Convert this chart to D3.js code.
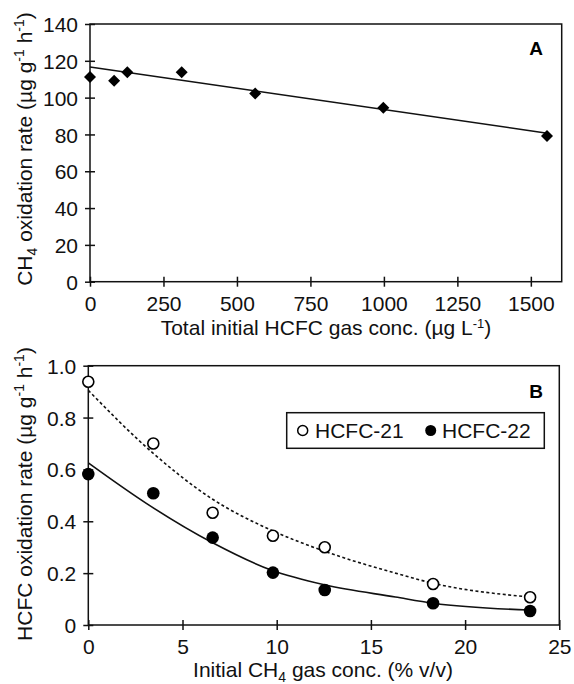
<!DOCTYPE html>
<html>
<head>
<meta charset="utf-8">
<script src="https://cdn.jsdelivr.net/npm/d3@7"></script>
<style>
  body { margin: 0; background: #fff; }
  svg { font-family: "Liberation Sans", Arial, sans-serif; }
  .tick text { font-size: 21px; fill: #111; }
  .domain { display: none; }
</style>
</head>
<body>
<div id="chart"></div>
<script>
// panel A data
const hcfcTotal = [0, 82, 127, 312, 562, 998, 1555];
const ch4Rate = [111.2, 109.2, 113.8, 113.8, 102.3, 94.5, 79.2];
const fitA = [[0, 116.6], [1550, 80.8]];
const xTicksA = [0, 250, 500, 750, 1000, 1250, 1500];
const yTicksA = [0, 20, 40, 60, 80, 100, 120, 140];

// panel B data
const ch4Conc = [0, 3.45, 6.6, 9.8, 12.55, 18.3, 23.45];
const hcfc21 = [0.938, 0.70, 0.433, 0.344, 0.30, 0.158, 0.107];
const hcfc22 = [0.582, 0.508, 0.337, 0.202, 0.135, 0.084, 0.054];
const fit21 = [[0, 0.905], [3.4, 0.665], [6.6, 0.485], [9.7, 0.366], [12.6, 0.283], [16.3, 0.20], [18.3, 0.161], [23.4, 0.108]];
const fit22 = [[0, 0.625], [3.1, 0.468], [6.6, 0.317], [9.7, 0.212], [12.6, 0.154], [16.3, 0.108], [18.3, 0.084], [23.4, 0.058]];
const xTicksB = [0, 5, 10, 15, 20, 25];
const yTicksB = [0, 0.2, 0.4, 0.6, 0.8, 1.0];

const svg = d3.select("#chart").append("svg")
  .attr("width", 574)
  .attr("height", 684);

function drawFrame(x, y, xTicks, yTicks, xFmt, yFmt) {
  const g = svg.append("g");
  const [x0, x1] = x.range();
  const [y0, y1] = y.range();

  g.append("rect")
    .attr("x", x0).attr("y", y1)
    .attr("width", x1 - x0).attr("height", y0 - y1)
    .attr("fill", "none").attr("stroke", "#111").attr("stroke-width", 1.5);

  const xa = g.append("g")
    .attr("transform", `translate(0,${y0})`)
    .call(d3.axisBottom(x).tickValues(xTicks).tickFormat(xFmt).tickSize(5).tickPadding(9));
  xa.selectAll(".tick line").attr("y1", -5).attr("y2", 5).attr("stroke", "#111").attr("stroke-width", 1.5);

  const ya = g.append("g")
    .attr("transform", `translate(${x0},0)`)
    .call(d3.axisLeft(y).tickValues(yTicks).tickFormat(yFmt).tickSize(5).tickPadding(7));
  ya.selectAll(".tick line").attr("x1", -5).attr("x2", 5).attr("stroke", "#111").attr("stroke-width", 1.5);
  ya.selectAll(".tick text").attr("dy", "0.36em");
  return g;
}

// ---------- Panel A ----------
const xA = d3.scaleLinear().domain([0, 1605]).range([90, 561.7]);
const yA = d3.scaleLinear().domain([0, 140]).range([281.7, 24]);
drawFrame(xA, yA, xTicksA, yTicksA, d => String(d), d => String(d));

svg.append("path")
  .datum(fitA)
  .attr("d", d3.line().x(d => xA(d[0])).y(d => yA(d[1])))
  .attr("fill", "none").attr("stroke", "#111").attr("stroke-width", 1.5);

svg.selectAll("path.diamond")
  .data(hcfcTotal.map((v, i) => [v, ch4Rate[i]]))
  .join("path")
  .attr("class", "diamond")
  .attr("transform", d => `translate(${xA(d[0])},${yA(d[1])})`)
  .attr("d", "M0,-6L6,0L0,6L-6,0Z")
  .attr("fill", "#000");

svg.append("text")
  .attr("x", 543).attr("y", 55)
  .attr("text-anchor", "end")
  .style("font-size", "19px").style("font-weight", "bold")
  .text("A");

const titleXA = svg.append("text")
  .attr("x", 326).attr("y", 335)
  .attr("text-anchor", "middle")
  .style("font-size", "21px").attr("fill", "#111");
titleXA.append("tspan").text("Total initial HCFC gas conc. (\u00b5g L");
titleXA.append("tspan").attr("dy", -7).style("font-size", "13px").text("-1");
titleXA.append("tspan").attr("dy", 7).text(")");

const titleYA = svg.append("text")
  .attr("transform", "translate(32,149) rotate(-90)")
  .attr("text-anchor", "middle")
  .style("font-size", "21px").attr("fill", "#111");
titleYA.append("tspan").text("CH");
titleYA.append("tspan").attr("dy", 5).style("font-size", "14px").text("4");
titleYA.append("tspan").attr("dy", -5).text(" oxidation rate (\u00b5g g");
titleYA.append("tspan").attr("dy", -8).style("font-size", "14px").text("-1");
titleYA.append("tspan").attr("dy", 8).text(" h");
titleYA.append("tspan").attr("dy", -8).style("font-size", "14px").text("-1");
titleYA.append("tspan").attr("dy", 8).text(")");

// ---------- Panel B ----------
const xB = d3.scaleLinear().domain([0, 25]).range([88.3, 559.3]);
const yB = d3.scaleLinear().domain([0, 1]).range([625, 365.7]);
drawFrame(xB, yB, xTicksB, yTicksB, d => String(d), d => d === 0 ? "0" : d3.format(".1f")(d));

const curve = d3.line().x(d => xB(d[0])).y(d => yB(d[1])).curve(d3.curveMonotoneX);

svg.append("path")
  .datum(fit21)
  .attr("d", curve)
  .attr("fill", "none").attr("stroke", "#111").attr("stroke-width", 1.6)
  .attr("stroke-dasharray", "3,2.5");

svg.append("path")
  .datum(fit22)
  .attr("d", curve)
  .attr("fill", "none").attr("stroke", "#111").attr("stroke-width", 1.6);

svg.selectAll("circle.h21")
  .data(ch4Conc.map((v, i) => [v, hcfc21[i]]))
  .join("circle")
  .attr("class", "h21")
  .attr("cx", d => xB(d[0])).attr("cy", d => yB(d[1]))
  .attr("r", 5.5)
  .attr("fill", "#fff").attr("stroke", "#000").attr("stroke-width", 1.6);

svg.selectAll("circle.h22")
  .data(ch4Conc.map((v, i) => [v, hcfc22[i]]))
  .join("circle")
  .attr("class", "h22")
  .attr("cx", d => xB(d[0])).attr("cy", d => yB(d[1]))
  .attr("r", 6.3)
  .attr("fill", "#000");

svg.append("text")
  .attr("x", 543).attr("y", 398)
  .attr("text-anchor", "end")
  .style("font-size", "19px").style("font-weight", "bold")
  .text("B");

// legend
const leg = svg.append("g");
leg.append("rect")
  .attr("x", 286.7).attr("y", 412.7).attr("width", 257.6).attr("height", 35.6)
  .attr("fill", "#fff").attr("stroke", "#111").attr("stroke-width", 1.5);
leg.append("circle").attr("cx", 302.7).attr("cy", 430.5).attr("r", 5)
  .attr("fill", "#fff").attr("stroke", "#000").attr("stroke-width", 1.5);
leg.append("text").attr("x", 315).attr("y", 438)
  .style("font-size", "21px").attr("fill", "#111").text("HCFC-21");
leg.append("circle").attr("cx", 430.7).attr("cy", 430.5).attr("r", 5.5).attr("fill", "#000");
leg.append("text").attr("x", 442).attr("y", 438)
  .style("font-size", "21px").attr("fill", "#111").text("HCFC-22");

const titleXB = svg.append("text")
  .attr("x", 323).attr("y", 677)
  .attr("text-anchor", "middle")
  .style("font-size", "21px").attr("fill", "#111");
titleXB.append("tspan").text("Initial CH");
titleXB.append("tspan").attr("dy", 5).style("font-size", "14px").text("4");
titleXB.append("tspan").attr("dy", -5).text(" gas conc. (% v/v)");

const titleYB = svg.append("text")
  .attr("transform", "translate(32,494) rotate(-90)")
  .attr("text-anchor", "middle")
  .style("font-size", "21px").attr("fill", "#111");
titleYB.append("tspan").text("HCFC oxidation rate (\u00b5g g");
titleYB.append("tspan").attr("dy", -8).style("font-size", "14px").text("-1");
titleYB.append("tspan").attr("dy", 8).text(" h");
titleYB.append("tspan").attr("dy", -8).style("font-size", "14px").text("-1");
titleYB.append("tspan").attr("dy", 8).text(")");
</script>
</body>
</html>
